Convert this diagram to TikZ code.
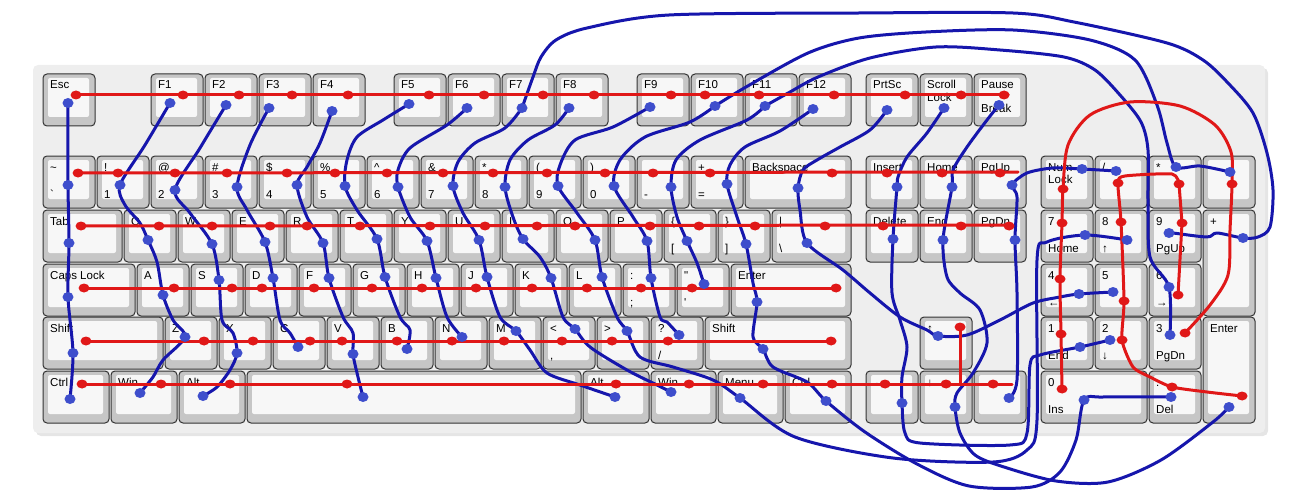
\documentclass[tikz,border=0pt]{standalone}
\usepackage{fontspec}
\newfontfamily\kf{Liberation Sans}
\definecolor{board}{RGB}{238,238,238}
\definecolor{keyring}{RGB}{198,198,198}
\definecolor{keyface}{RGB}{247,247,247}
\definecolor{redline}{RGB}{224,24,24}
\definecolor{blueline}{RGB}{22,22,172}
\definecolor{bluedot}{RGB}{62,78,204}
\tikzset{
  keyout/.style={fill=keyring,draw=black!80,line width=1pt,rounded corners=4pt},
  keyin/.style={fill=keyface,rounded corners=2pt},
  lbl/.style={anchor=base west,inner sep=0pt,font=\kf\fontsize{11.5}{13}\selectfont},
  rowline/.style={draw=redline,line width=3pt,line cap=round,line join=round},
  colline/.style={draw=blueline,line width=3pt,line cap=round,line join=round},
  rdot/.style={fill=redline},
  bdot/.style={fill=bluedot},
}
% key: x, y, width, height, upper label, lower label
\newcommand{\kb}[6]{%
  \draw[keyout] (#1,#2) rectangle ++(#3,#4);
  \fill[keyin] (#1+5,#2+4) rectangle (#1+#3-6,#2+#4-9);
  \node[lbl] (k#1-#2a) at (#1+7,#2+15) {#5};
  \node[lbl] (k#1-#2b) at (#1+7,#2+42) {#6};
}

\begin{document}
\begin{tikzpicture}[x=1pt,y=-1pt]
   \useasboundingbox (0,0) rectangle (1300,500);
   \fill[black!10,rounded corners=5pt] (36,68) rectangle (1268,436);
   \fill[board,rounded corners=5pt] (33,65) rectangle (1265,433);
   % function row
   \kb{43}{74}{52}{52}{Esc}{}
   \foreach \x/\a in {151/F1,205/F2,259/F3,313/F4,394/F5,448/F6,502/F7,556/F8,
                      637/F9,691/F10,745/F11,799/F12,866/PrtSc}
      {\kb{\x}{74}{52}{52}{\a}{}}
   \kb{920}{74}{52}{52}{Scroll}{}
   \node[lbl] (lock1) at (927,102) {Lock};
   \kb{974}{74}{52}{52}{Pause}{}
   \node[lbl] (brk) at (981,113) {Break};
   % number row
   \foreach \x/\a/\b in {43/\textasciitilde/`,97/!/1,151/@/2,205/\#/3,259/\$/4,313/\%/5,
                         367/\textasciicircum/6,421/\&/7,475/*/8,529/{(}/9,583/{)}/0,
                         637/\_/-,691/+/=}
      {\kb{\x}{156}{52}{52}{\a}{\b}}
   \kb{745}{156}{106}{52}{Backspace}{}
   \kb{866}{156}{52}{52}{Insert}{}
   \kb{920}{156}{52}{52}{Home}{}
   \kb{974}{156}{52}{52}{PgUp}{}
   \kb{1041}{156}{52}{52}{Num}{}
   \node[lbl] (lock2) at (1048,183) {Lock};
   \kb{1095}{156}{52}{52}{/}{}
   \kb{1149}{156}{52}{52}{*}{}
   \kb{1203}{156}{52}{52}{-}{}
   % tab row
   \kb{43}{210}{79}{52}{Tab}{}
   \foreach \x/\a in {124/Q,178/W,232/E,286/R,340/T,394/Y,448/U,502/I,556/O,610/P}
      {\kb{\x}{210}{52}{52}{\a}{}}
   \kb{664}{210}{52}{52}{\{}{[}
   \kb{718}{210}{52}{52}{\}}{]}
   \kb{772}{210}{79}{52}{|}{\textbackslash}
   \kb{866}{210}{52}{52}{Delete}{}
   \kb{920}{210}{52}{52}{End}{}
   \kb{974}{210}{52}{52}{PgDn}{}
   \kb{1041}{210}{52}{52}{7}{Home}
   \kb{1095}{210}{52}{52}{8}{↑}
   \kb{1149}{210}{52}{52}{9}{PgUp}
   \kb{1203}{210}{52}{106}{+}{}
   % caps row
   \kb{43}{264}{92}{52}{Caps Lock}{}
   \foreach \x/\a in {137/A,191/S,245/D,299/F,353/G,407/H,461/J,515/K,569/L}
      {\kb{\x}{264}{52}{52}{\a}{}}
   \kb{623}{264}{52}{52}{:}{;}
   \kb{677}{264}{52}{52}{"}{'}
   \kb{731}{264}{120}{52}{Enter}{}
   \kb{1041}{264}{52}{52}{4}{←}
   \kb{1095}{264}{52}{52}{5}{}
   \kb{1149}{264}{52}{52}{6}{→}
   % shift row
   \kb{43}{317}{120}{52}{Shift}{}
   \foreach \x/\a in {165/Z,219/X,273/C,327/V,381/B,435/N,489/M}
      {\kb{\x}{317}{52}{52}{\a}{}}
   \kb{543}{317}{52}{52}{<}{,}
   \kb{597}{317}{52}{52}{>}{.}
   \kb{651}{317}{52}{52}{?}{/}
   \kb{705}{317}{146}{52}{Shift}{}
   \kb{920}{317}{52}{52}{↑}{}
   \kb{1041}{317}{52}{52}{1}{End}
   \kb{1095}{317}{52}{52}{2}{↓}
   \kb{1149}{317}{52}{52}{3}{PgDn}
   \kb{1203}{317}{52}{106}{Enter}{}
   % bottom row
   \kb{43}{371}{66}{52}{Ctrl}{}
   \kb{111}{371}{66}{52}{Win}{}
   \kb{179}{371}{66}{52}{Alt}{}
   \kb{247}{371}{334}{52}{}{}
   \kb{583}{371}{66}{52}{Alt}{}
   \kb{651}{371}{65}{52}{Win}{}
   \kb{718}{371}{65}{52}{Menu}{}
   \kb{785}{371}{66}{52}{Ctrl}{}
   \kb{866}{371}{52}{52}{←}{}
   \kb{920}{371}{52}{52}{↓}{}
   \kb{974}{371}{52}{52}{→}{}
   \kb{1041}{371}{106}{52}{0}{Ins}
   \kb{1149}{371}{52}{52}{.}{Del}

   % columns
   \draw[colline] plot[smooth] coordinates {(68,103) (68,185) (69,243) (68,297) (73,353) (70,399)};
   \draw[colline] plot[smooth] coordinates {(170,103) (145,145) (120,185) (125,205) (140,223) (148,240) (157,262) (163,295) (173,320) (185,337) (163,360) (153,377) (140,393)};
   \draw[colline] plot[smooth] coordinates {(226,105) (200,148) (175,190) (190,213) (212,244) (219,280) (222,320) (233,333) (237,353) (230,370) (217,387) (203,396)};
   \draw[colline] plot[smooth] coordinates {(269,108) (250,145) (237,187) (247,210) (265,242) (273,278) (280,320) (290,333) (298,347)};
   \draw[colline] plot[smooth] coordinates {(332,111) (320,143) (307,167) (297,185) (307,217) (323,243) (329,278) (343,317) (353,333) (353,354) (358,377) (363,397)};
   \draw[colline] plot[smooth] coordinates {(409,104) (383,120) (357,137) (347,160) (345,186) (357,210) (377,239) (385,277) (400,317) (410,330) (407,349)};
   \draw[colline] plot[smooth] coordinates {(467,108) (447,125) (410,148) (398,170) (398,187) (410,217) (427,241) (436,278) (447,317) (462,337)};
   \draw[colline] plot[smooth] coordinates {(522,108) (505,128) (475,143) (458,162) (453,186) (463,213) (479,240) (487,277) (500,317) (516,331) (530,350) (547,373) (580,385) (615,397)};
   \draw[colline] plot[smooth] coordinates {(522,108) (533,77) (541,57) (556,40) (587,28) (669,15) (859,13) (1013,13) (1074,22) (1167,43) (1203,60) (1228,83) (1253,113) (1267,153) (1273,190) (1270,227) (1258,237) (1243,238) (1217,233) (1207,237) (1173,233) (1169,233)};
   \draw[colline] plot[smooth] coordinates {(569,108) (555,125) (528,140) (510,160) (505,187) (513,217) (523,239) (540,257) (551,278) (563,317) (575,329) (590,347) (627,370) (657,385) (671,392)};
   \draw[colline] plot[smooth] coordinates {(650,107) (613,127) (575,140) (560,165) (558,186) (577,213) (595,240) (602,277) (617,317) (627,331) (640,357) (673,367) (713,380) (740,398) (795,437) (893,458) (993,462) (1027,450) (1037,420) (1037,260) (1047,242) (1085,235) (1127,240)};
   \draw[colline] plot[smooth] coordinates {(715,106) (690,122) (645,137) (620,160) (614,186) (633,217) (647,241) (651,278) (660,317) (667,322) (679,335)};
   \draw[colline] plot[smooth] coordinates {(715,106) (746,87) (808,53) (859,38) (926,32) (1013,30) (1090,40) (1135,60) (1157,105) (1167,143) (1176,167) (1200,166) (1230,172)};
   \draw[colline] plot[smooth] coordinates {(765,106) (747,120) (700,140) (676,160) (671,187) (677,217) (687,241) (697,263) (704,284)};
   \draw[colline] plot[smooth] coordinates {(765,106) (790,92) (818,77) (870,58) (936,47) (1000,50) (1064,57) (1095,70) (1120,95) (1141,122) (1148,150) (1148,200) (1150,257) (1169,287) (1170,335)};
   \draw[colline] plot[smooth] coordinates {(813,109) (780,131) (745,147) (730,165) (727,184) (737,217) (746,244) (753,283) (757,302) (753,337) (763,349) (773,367) (807,382) (826,401) (865,432) (917,464) (969,486) (1032,487) (1060,472) (1076,440) (1084,400) (1103,397) (1171,397)};
   \draw[colline] plot[smooth] coordinates {(887,110) (870,130) (840,147) (817,160) (803,170) (798,188) (800,210) (807,243) (843,270) (870,293) (900,317) (927,330) (938,336) (967,335) (1000,320) (1033,303) (1060,297) (1079,294) (1113,292)};
   \draw[colline] plot[smooth] coordinates {(944,108) (927,133) (907,157) (898,177) (897,187) (893,239) (892,293) (900,320) (907,347) (902,377) (902,403) (905,433) (920,443) (1010,445) (1027,433) (1030,365) (1040,355) (1080,347) (1110,340)};
   \draw[colline] plot[smooth] coordinates {(999,105) (987,120) (967,147) (953,170) (952,187) (943,240) (947,277) (960,293) (980,310) (987,343) (973,373) (957,393) (955,407) (960,433) (975,455) (1004,467) (1056,481) (1108,482) (1161,460) (1213,422) (1229,407)};
   \draw[colline] plot[smooth] coordinates {(1116,171) (1082,169) (1053,168) (1027,173) (1012,185) (1017,197) (1015,240) (1017,293) (1017,380) (1009,398)};

   % rows
   \draw[rowline] (76,95) -- (1008,95);
   \draw[rowline] (78,173) -- (1018,172);
   \draw[rowline] (81,226) -- (1010,225);
   \draw[rowline] (84,288) -- (836,288);
   \draw[rowline] (86,341) -- (831,341);
   \draw[rowline] (82,384) -- (1012,384);
   \draw[rowline] (960,327) -- (960,384);
   \draw[rowline] plot[smooth,tension=0.5] coordinates {(1062,389) (1061,334) (1060,279) (1062,223) (1063,189) (1068,145) (1090,115) (1130,102) (1180,106) (1215,125) (1231,152) (1232,184) (1230,230) (1228,275) (1210,305) (1185,333)};
   \draw[rowline] plot[smooth,tension=0.4] coordinates {(1179,184) (1172,174) (1125,176) (1118,183) (1121,222) (1124,301) (1122,340) (1133,367) (1150,377) (1172,387) (1207,392) (1242,396)};
   \draw[rowline] (1179,184) -- (1182,223) -- (1178,295);

   % dots
   \foreach \x in {76,183,239,292,348,429,484,543,594,671,705,759,834,905,961,1004}
      \fill[rdot] (\x,95) ellipse (5.5 and 4.5);
   \foreach \x in {78,118,175,227,287,335,387,443,493,547,605,653,710,832,887,942,1000}
      \fill[rdot] (\x,173) ellipse (5.5 and 4.5);
   \foreach \x in {81,159,212,270,307,360,430,485,537,575,650,699,755,825,883,961,1009}
      \fill[rdot] (\x,226) ellipse (5.5 and 4.5);
   \foreach \x in {84,174,232,262,314,372,422,476,532,587,641,692,836}
      \fill[rdot] (\x,288) ellipse (5.5 and 4.5);
   \foreach \x in {86,204,253,310,342,397,452,504,562,612,668,831}
      \fill[rdot] (\x,341) ellipse (5.5 and 4.5);
   \foreach \x in {82,161,230,347,616,689,763,832,885,946,993}
      \fill[rdot] (\x,384) ellipse (5.5 and 4.5);
   \foreach \p in {(960,327),(1062,389),(1061,334),(1060,279),(1062,223),(1063,189),(1232,184),(1185,333),
                   (1179,184),(1118,183),(1121,222),(1124,301),(1122,340),(1172,387),(1242,396),(1182,223),(1178,295)}
      \fill[rdot] \p ellipse (5.5 and 4.5);
   \foreach \p in {(68,103),(68,185),(69,243),(68,297),(73,353),(70,399),
                   (170,103),(120,185),(148,240),(163,295),(185,337),(140,393),
                   (226,105),(175,190),(212,244),(219,280),(237,353),(203,396),
                   (269,108),(237,187),(265,242),(273,278),(298,347),
                   (332,111),(297,185),(323,243),(329,278),(353,354),(363,397),
                   (409,104),(345,186),(377,239),(385,277),(407,349),
                   (467,108),(398,187),(427,241),(436,278),(462,337),
                   (522,108),(453,186),(479,240),(487,277),(516,331),(615,397),(1243,238),(1169,233),
                   (569,108),(505,187),(523,239),(551,278),(575,329),(671,392),
                   (650,107),(558,186),(595,240),(602,277),(627,331),(740,398),(1085,235),(1127,240),
                   (715,106),(614,186),(647,241),(651,278),(679,335),(1176,167),(1230,172),
                   (765,106),(671,187),(687,241),(704,284),(1169,287),(1170,335),
                   (813,109),(727,184),(746,244),(757,302),(763,349),(826,401),(1084,400),(1171,397),
                   (887,110),(798,188),(807,243),(938,336),(1079,294),(1113,292),
                   (944,108),(897,187),(893,239),(902,403),(1080,347),(1110,340),
                   (999,105),(952,187),(943,240),(955,407),(1229,407),
                   (1116,171),(1082,169),(1012,185),(1015,240),(1009,398)}
      \fill[bdot] \p ellipse (5.5 and 5);
\end{tikzpicture}
\end{document}
